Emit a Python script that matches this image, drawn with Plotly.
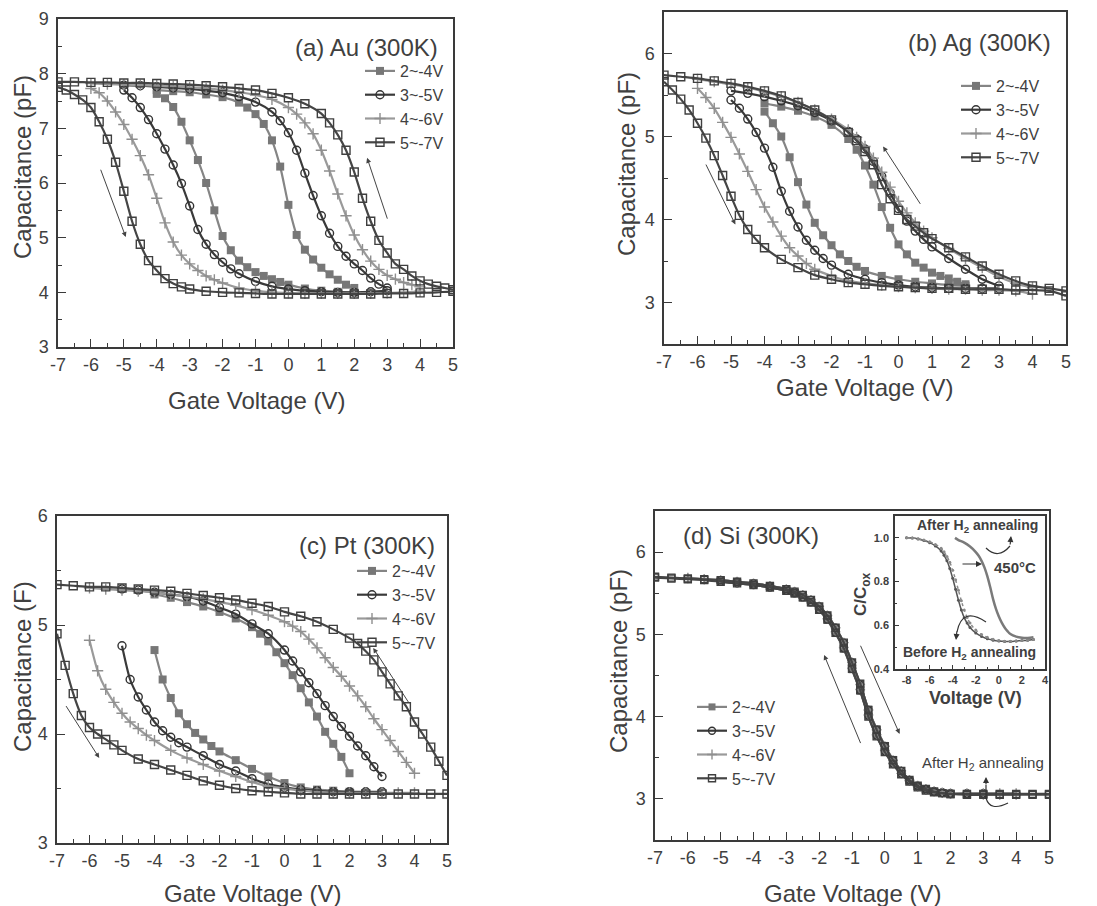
import plotly.graph_objects as go

FONT = "Liberation Sans, Arial, Helvetica, sans-serif"
W, H = 1097, 906
OFF = 8  # page body margin of the viewer; positions below are screen pixels
AX = "#3a3a3a"
TXT = "#404040"

SERIES = ["2~-4V", "3~-5V", "4~-6V", "5~-7V"]
GATE_TICKS = [-7, -6, -5, -4, -3, -2, -1, 0, 1, 2, 3, 4, 5]
INSET_X_TICKS = [-8, -6, -4, -2, 0, 2, 4]

# ---------------- (a) Au ----------------
A_24_DOWN_V = [-4, -3.75, -3.5, -3.25, -3, -2.75, -2.5, -2.25, -2, -1.75, -1.5, -1.25, -1, -0.75, -0.5, -0.25, 0, 0.5, 1, 1.5, 2]
A_24_DOWN_C = [7.63, 7.55, 7.39, 7.12, 6.78, 6.42, 6.00, 5.50, 5.03, 4.77, 4.58, 4.46, 4.37, 4.30, 4.24, 4.19, 4.14, 4.07, 4.03, 4.01, 4.00]
A_24_UP_V = [2, 1.75, 1.5, 1.25, 1, 0.75, 0.5, 0.25, 0, -0.25, -0.5, -0.75, -1, -1.25, -1.5, -2, -2.5, -3, -3.5, -4]
A_24_UP_C = [4.08, 4.14, 4.23, 4.33, 4.45, 4.60, 4.78, 5.05, 5.60, 6.30, 6.78, 7.08, 7.26, 7.38, 7.47, 7.57, 7.62, 7.66, 7.68, 7.70]

A_35_DOWN_V = [-5, -4.75, -4.5, -4.25, -4, -3.75, -3.5, -3.25, -3, -2.75, -2.5, -2.25, -2, -1.75, -1.5, -1, -0.5, 0, 0.5, 1, 1.5, 2, 2.5, 3]
A_35_DOWN_C = [7.70, 7.56, 7.38, 7.16, 6.90, 6.62, 6.33, 5.99, 5.58, 5.15, 4.88, 4.69, 4.55, 4.43, 4.34, 4.20, 4.11, 4.06, 4.03, 4.01, 4.00, 4.00, 4.01, 4.03]
A_35_UP_V = [3, 2.75, 2.5, 2.25, 2, 1.75, 1.5, 1.25, 1, 0.75, 0.5, 0.25, 0, -0.25, -0.5, -1, -1.5, -2, -2.5, -3, -3.5, -4, -4.5, -5]
A_35_UP_C = [4.08, 4.15, 4.26, 4.40, 4.52, 4.66, 4.84, 5.08, 5.40, 5.77, 6.18, 6.60, 6.92, 7.14, 7.30, 7.48, 7.58, 7.65, 7.69, 7.72, 7.74, 7.76, 7.78, 7.79]

A_46_DOWN_V = [-6, -5.75, -5.5, -5.25, -5, -4.75, -4.5, -4.25, -4, -3.75, -3.5, -3.25, -3, -2.75, -2.5, -2.25, -2, -1.5, -1, -0.5, 0, 0.5, 1, 1.5, 2, 2.5, 3, 3.5, 4]
A_46_DOWN_C = [7.73, 7.65, 7.50, 7.30, 7.07, 6.80, 6.50, 6.15, 5.72, 5.27, 4.92, 4.68, 4.52, 4.40, 4.30, 4.23, 4.17, 4.08, 4.03, 4.00, 3.99, 3.98, 3.98, 3.98, 3.98, 3.98, 3.99, 4.00, 4.02]
A_46_UP_V = [4, 3.75, 3.5, 3.25, 3, 2.75, 2.5, 2.25, 2, 1.75, 1.5, 1.25, 1, 0.75, 0.5, 0.25, 0, -0.5, -1, -1.5, -2, -2.5, -3, -3.5, -4, -4.5, -5, -5.5, -6]
A_46_UP_C = [4.10, 4.14, 4.18, 4.24, 4.31, 4.42, 4.57, 4.78, 5.05, 5.40, 5.80, 6.22, 6.60, 6.90, 7.10, 7.26, 7.38, 7.53, 7.61, 7.66, 7.70, 7.73, 7.75, 7.77, 7.78, 7.79, 7.80, 7.81, 7.82]

A_57_DOWN_V = [-7, -6.75, -6.5, -6.25, -6, -5.75, -5.5, -5.25, -5, -4.75, -4.5, -4.25, -4, -3.75, -3.5, -3.25, -3, -2.5, -2, -1.5, -1, -0.5, 0, 0.5, 1, 1.5, 2, 2.5, 3, 3.5, 4, 4.5, 5]
A_57_DOWN_C = [7.75, 7.70, 7.62, 7.52, 7.38, 7.12, 6.80, 6.38, 5.85, 5.30, 4.88, 4.58, 4.40, 4.25, 4.16, 4.10, 4.06, 4.02, 4.00, 3.99, 3.98, 3.97, 3.97, 3.97, 3.97, 3.97, 3.97, 3.97, 3.98, 3.98, 3.99, 4.00, 4.02]
A_57_UP_V = [5, 4.75, 4.5, 4.25, 4, 3.75, 3.5, 3.25, 3, 2.75, 2.5, 2.25, 2, 1.75, 1.5, 1.25, 1, 0.5, 0, -0.5, -1, -1.5, -2, -2.5, -3, -3.5, -4, -4.5, -5, -5.5, -6, -6.5, -7]
A_57_UP_C = [4.05, 4.08, 4.11, 4.15, 4.21, 4.30, 4.42, 4.52, 4.72, 4.95, 5.30, 5.72, 6.20, 6.60, 6.88, 7.10, 7.27, 7.45, 7.56, 7.64, 7.70, 7.73, 7.76, 7.78, 7.80, 7.81, 7.82, 7.83, 7.83, 7.84, 7.84, 7.85, 7.85]

# ---------------- (b) Ag ----------------
B_24_DOWN_V = [-4, -3.75, -3.5, -3.25, -3, -2.75, -2.5, -2.25, -2, -1.75, -1.5, -1.25, -1, -0.5, 0, 0.5, 1, 1.5, 2]
B_24_DOWN_C = [5.30, 5.16, 5.00, 4.75, 4.45, 4.18, 3.96, 3.81, 3.69, 3.58, 3.50, 3.43, 3.38, 3.32, 3.28, 3.25, 3.23, 3.21, 3.20]
B_24_UP_V = [2, 1.75, 1.5, 1.25, 1, 0.75, 0.5, 0.25, 0, -0.25, -0.5, -0.75, -1, -1.25, -1.5, -2, -2.5, -3, -3.5, -4]
B_24_UP_C = [3.22, 3.25, 3.29, 3.32, 3.36, 3.42, 3.48, 3.58, 3.70, 3.90, 4.15, 4.42, 4.65, 4.84, 4.97, 5.14, 5.24, 5.31, 5.36, 5.40]

B_35_DOWN_V = [-5, -4.75, -4.5, -4.25, -4, -3.75, -3.5, -3.25, -3, -2.75, -2.5, -2.25, -2, -1.5, -1, -0.5, 0, 0.5, 1, 1.5, 2, 2.5, 3]
B_35_DOWN_C = [5.44, 5.34, 5.21, 5.05, 4.86, 4.63, 4.34, 4.10, 3.91, 3.75, 3.63, 3.53, 3.45, 3.34, 3.28, 3.24, 3.21, 3.19, 3.18, 3.17, 3.17, 3.17, 3.17]
B_35_UP_V = [3, 2.5, 2, 1.5, 1, 0.75, 0.5, 0.25, 0, -0.25, -0.5, -0.75, -1, -1.25, -1.5, -2, -2.5, -3, -3.5, -4, -4.5, -5]
B_35_UP_C = [3.20, 3.28, 3.40, 3.53, 3.67, 3.76, 3.86, 3.98, 4.13, 4.32, 4.52, 4.70, 4.85, 4.97, 5.06, 5.19, 5.29, 5.37, 5.43, 5.48, 5.52, 5.55]

B_46_DOWN_V = [-6, -5.75, -5.5, -5.25, -5, -4.75, -4.5, -4.25, -4, -3.75, -3.5, -3.25, -3, -2.75, -2.5, -2, -1.5, -1, -0.5, 0, 0.5, 1, 1.5, 2, 2.5, 3, 3.5, 4]
B_46_DOWN_C = [5.58, 5.47, 5.34, 5.17, 4.99, 4.79, 4.58, 4.36, 4.15, 3.97, 3.80, 3.66, 3.56, 3.47, 3.40, 3.32, 3.26, 3.23, 3.21, 3.19, 3.18, 3.17, 3.16, 3.16, 3.15, 3.15, 3.14, 3.10]
B_46_UP_V = [4, 3.5, 3, 2.5, 2, 1.5, 1, 0.75, 0.5, 0.25, 0, -0.25, -0.5, -0.75, -1, -1.25, -1.5, -2, -2.5, -3, -3.5, -4, -4.5, -5, -5.5, -6]
B_46_UP_C = [3.18, 3.23, 3.31, 3.42, 3.53, 3.65, 3.78, 3.86, 3.96, 4.08, 4.22, 4.39, 4.57, 4.74, 4.88, 4.99, 5.08, 5.21, 5.32, 5.41, 5.48, 5.54, 5.59, 5.63, 5.66, 5.69]

B_57_DOWN_V = [-7, -6.75, -6.5, -6.25, -6, -5.75, -5.5, -5.25, -5, -4.75, -4.5, -4.25, -4, -3.5, -3, -2.5, -2, -1.5, -1, -0.5, 0, 0.5, 1, 1.5, 2, 2.5, 3, 3.5, 4, 4.5, 5]
B_57_DOWN_C = [5.66, 5.56, 5.45, 5.32, 5.16, 4.98, 4.77, 4.53, 4.28, 4.05, 3.88, 3.76, 3.66, 3.52, 3.42, 3.33, 3.28, 3.24, 3.22, 3.20, 3.19, 3.18, 3.17, 3.17, 3.16, 3.16, 3.16, 3.15, 3.15, 3.14, 3.08]
B_57_UP_V = [5, 4.5, 4, 3.5, 3, 2.5, 2, 1.5, 1, 0.75, 0.5, 0.25, 0, -0.25, -0.5, -0.75, -1, -1.25, -1.5, -2, -2.5, -3, -3.5, -4, -4.5, -5, -5.5, -6, -6.5, -7]
B_57_UP_C = [3.14, 3.17, 3.20, 3.26, 3.34, 3.44, 3.55, 3.66, 3.77, 3.84, 3.92, 4.00, 4.11, 4.25, 4.42, 4.66, 4.82, 4.95, 5.05, 5.20, 5.32, 5.41, 5.49, 5.55, 5.60, 5.64, 5.67, 5.70, 5.72, 5.74]

# ---------------- (c) Pt ----------------
C_24_DOWN_V = [-4, -3.75, -3.5, -3.25, -3, -2.75, -2.5, -2.25, -2, -1.5, -1, -0.5, 0, 0.5, 1, 1.5, 2]
C_24_DOWN_C = [4.77, 4.50, 4.33, 4.19, 4.09, 4.01, 3.95, 3.89, 3.84, 3.76, 3.68, 3.61, 3.55, 3.51, 3.49, 3.48, 3.47]
C_24_UP_V = [2, 1.75, 1.5, 1.25, 1, 0.75, 0.5, 0.25, 0, -0.25, -0.5, -0.75, -1, -1.5, -2, -2.5, -3, -3.5, -4]
C_24_UP_C = [3.64, 3.79, 3.91, 4.02, 4.16, 4.29, 4.42, 4.54, 4.65, 4.75, 4.85, 4.92, 4.98, 5.06, 5.12, 5.17, 5.21, 5.25, 5.28]

C_35_DOWN_V = [-5, -4.75, -4.5, -4.25, -4, -3.75, -3.5, -3.25, -3, -2.5, -2, -1.5, -1, -0.5, 0, 0.5, 1, 1.5, 2, 2.5, 3]
C_35_DOWN_C = [4.81, 4.50, 4.34, 4.22, 4.11, 4.03, 3.97, 3.92, 3.88, 3.80, 3.72, 3.66, 3.59, 3.54, 3.51, 3.49, 3.48, 3.47, 3.47, 3.47, 3.47]
C_35_UP_V = [3, 2.75, 2.5, 2.25, 2, 1.75, 1.5, 1.25, 1, 0.75, 0.5, 0.25, 0, -0.5, -1, -1.5, -2, -2.5, -3, -3.5, -4, -4.5, -5]
C_35_UP_C = [3.61, 3.70, 3.80, 3.89, 3.98, 4.07, 4.16, 4.26, 4.37, 4.47, 4.57, 4.67, 4.77, 4.92, 5.01, 5.10, 5.16, 5.22, 5.26, 5.28, 5.30, 5.32, 5.33]

C_46_DOWN_V = [-6, -5.75, -5.5, -5.25, -5, -4.75, -4.5, -4.25, -4, -3.5, -3, -2.5, -2, -1.5, -1, -0.5, 0, 0.5, 1, 1.5, 2, 2.5, 3, 3.5, 4]
C_46_DOWN_C = [4.86, 4.58, 4.41, 4.29, 4.19, 4.11, 4.05, 3.99, 3.94, 3.85, 3.78, 3.72, 3.66, 3.61, 3.56, 3.52, 3.50, 3.48, 3.47, 3.46, 3.46, 3.46, 3.46, 3.46, 3.46]
C_46_UP_V = [4, 3.75, 3.5, 3.25, 3, 2.75, 2.5, 2.25, 2, 1.75, 1.5, 1.25, 1, 0.75, 0.5, 0.25, 0, -0.5, -1, -1.5, -2, -2.5, -3, -3.5, -4, -4.5, -5, -5.5, -6]
C_46_UP_C = [3.64, 3.74, 3.84, 3.94, 4.04, 4.14, 4.25, 4.35, 4.44, 4.53, 4.61, 4.70, 4.79, 4.87, 4.94, 4.99, 5.03, 5.09, 5.14, 5.18, 5.21, 5.24, 5.26, 5.28, 5.30, 5.31, 5.32, 5.33, 5.34]

C_57_DOWN_V = [-7, -6.75, -6.5, -6.25, -6, -5.75, -5.5, -5.25, -5, -4.5, -4, -3.5, -3, -2.5, -2, -1.5, -1, -0.5, 0, 0.5, 1, 1.5, 2, 2.5, 3, 3.5, 4, 4.5, 5]
C_57_DOWN_C = [4.92, 4.63, 4.37, 4.17, 4.06, 4.00, 3.95, 3.90, 3.85, 3.77, 3.72, 3.67, 3.62, 3.57, 3.53, 3.50, 3.48, 3.47, 3.46, 3.45, 3.45, 3.45, 3.45, 3.45, 3.45, 3.45, 3.45, 3.45, 3.45]
C_57_UP_V = [5, 4.75, 4.5, 4.25, 4, 3.75, 3.5, 3.25, 3, 2.75, 2.5, 2.25, 2, 1.5, 1, 0.5, 0, -0.5, -1, -1.5, -2, -2.5, -3, -3.5, -4, -4.5, -5, -5.5, -6, -6.5, -7]
C_57_UP_C = [3.62, 3.75, 3.88, 4.00, 4.11, 4.25, 4.35, 4.46, 4.57, 4.68, 4.76, 4.83, 4.88, 4.96, 5.03, 5.08, 5.12, 5.17, 5.20, 5.23, 5.25, 5.27, 5.29, 5.31, 5.32, 5.33, 5.34, 5.35, 5.35, 5.36, 5.37]

# ---------------- (d) Si ----------------
D_24_DOWN_V = [-4, -3.5, -3, -2.75, -2.5, -2.25, -2, -1.75, -1.5, -1.25, -1, -0.75, -0.5, -0.25, 0, 0.25, 0.5, 0.75, 1, 1.25, 1.5, 1.75, 2]
D_24_DOWN_C = [5.60, 5.57, 5.53, 5.49, 5.44, 5.38, 5.29, 5.17, 5.01, 4.82, 4.57, 4.31, 4.00, 3.76, 3.57, 3.42, 3.30, 3.21, 3.14, 3.10, 3.08, 3.07, 3.06]
D_24_UP_V = [2, 1.75, 1.5, 1.25, 1, 0.75, 0.5, 0.25, 0, -0.25, -0.5, -0.75, -1, -1.25, -1.5, -1.75, -2, -2.25, -2.5, -2.75, -3, -3.5, -4]
D_24_UP_C = [3.06, 3.07, 3.09, 3.12, 3.16, 3.23, 3.34, 3.48, 3.65, 3.85, 4.09, 4.38, 4.65, 4.89, 5.07, 5.22, 5.33, 5.41, 5.47, 5.51, 5.54, 5.58, 5.61]

D_35_DOWN_V = [-5, -4.5, -4, -3.5, -3, -2.75, -2.5, -2.25, -2, -1.75, -1.5, -1.25, -1, -0.75, -0.5, -0.25, 0, 0.25, 0.5, 0.75, 1, 1.25, 1.5, 1.75, 2, 2.5, 3]
D_35_DOWN_C = [5.64, 5.62, 5.60, 5.57, 5.53, 5.50, 5.45, 5.39, 5.30, 5.18, 5.02, 4.83, 4.58, 4.32, 4.01, 3.77, 3.58, 3.43, 3.31, 3.22, 3.15, 3.11, 3.09, 3.08, 3.07, 3.07, 3.07]
D_35_UP_V = [3, 2.5, 2, 1.75, 1.5, 1.25, 1, 0.75, 0.5, 0.25, 0, -0.25, -0.5, -0.75, -1, -1.25, -1.5, -1.75, -2, -2.25, -2.5, -2.75, -3, -3.5, -4, -4.5, -5]
D_35_UP_C = [3.06, 3.06, 3.06, 3.07, 3.09, 3.12, 3.16, 3.23, 3.34, 3.47, 3.64, 3.84, 4.08, 4.39, 4.66, 4.90, 5.08, 5.23, 5.34, 5.42, 5.48, 5.52, 5.55, 5.59, 5.62, 5.64, 5.66]

D_46_DOWN_V = [-6, -5.5, -5, -4.5, -4, -3.5, -3, -2.75, -2.5, -2.25, -2, -1.75, -1.5, -1.25, -1, -0.75, -0.5, -0.25, 0, 0.25, 0.5, 0.75, 1, 1.25, 1.5, 1.75, 2, 2.5, 3, 3.5, 4]
D_46_DOWN_C = [5.68, 5.67, 5.65, 5.63, 5.61, 5.58, 5.54, 5.51, 5.46, 5.40, 5.31, 5.19, 5.03, 4.84, 4.59, 4.33, 4.02, 3.78, 3.59, 3.43, 3.31, 3.22, 3.15, 3.11, 3.09, 3.08, 3.07, 3.07, 3.07, 3.07, 3.07]
D_46_UP_V = [4, 3.5, 3, 2.5, 2, 1.75, 1.5, 1.25, 1, 0.75, 0.5, 0.25, 0, -0.25, -0.5, -0.75, -1, -1.25, -1.5, -1.75, -2, -2.25, -2.5, -2.75, -3, -3.5, -4, -4.5, -5, -5.5, -6]
D_46_UP_C = [3.05, 3.05, 3.05, 3.06, 3.06, 3.07, 3.09, 3.12, 3.16, 3.23, 3.34, 3.47, 3.64, 3.84, 4.08, 4.39, 4.66, 4.90, 5.08, 5.23, 5.34, 5.42, 5.48, 5.52, 5.55, 5.59, 5.62, 5.64, 5.66, 5.67, 5.69]

D_57_DOWN_V = [-7, -6.5, -6, -5.5, -5, -4.5, -4, -3.5, -3, -2.75, -2.5, -2.25, -2, -1.75, -1.5, -1.25, -1, -0.75, -0.5, -0.25, 0, 0.25, 0.5, 0.75, 1, 1.25, 1.5, 1.75, 2, 2.5, 3, 3.5, 4, 4.5, 5]
D_57_DOWN_C = [5.69, 5.68, 5.67, 5.66, 5.64, 5.62, 5.60, 5.57, 5.53, 5.50, 5.45, 5.39, 5.30, 5.18, 5.02, 4.83, 4.58, 4.32, 4.00, 3.76, 3.57, 3.42, 3.30, 3.21, 3.14, 3.10, 3.08, 3.07, 3.06, 3.06, 3.06, 3.06, 3.06, 3.06, 3.06]
D_57_UP_V = [5, 4.5, 4, 3.5, 3, 2.5, 2, 1.75, 1.5, 1.25, 1, 0.75, 0.5, 0.25, 0, -0.25, -0.5, -0.75, -1, -1.25, -1.5, -1.75, -2, -2.25, -2.5, -2.75, -3, -3.5, -4, -4.5, -5, -5.5, -6, -6.5, -7]
D_57_UP_C = [3.05, 3.05, 3.05, 3.05, 3.05, 3.05, 3.06, 3.07, 3.09, 3.12, 3.16, 3.23, 3.34, 3.47, 3.64, 3.84, 4.08, 4.40, 4.66, 4.90, 5.08, 5.23, 5.34, 5.42, 5.48, 5.52, 5.55, 5.59, 5.62, 5.64, 5.66, 5.67, 5.68, 5.69, 5.70]

# ---------------- inset of (d): C/Cox vs V ----------------
INSET_BEFORE_V = [-8, -7.5, -7, -6.5, -6, -5.5, -5, -4.75, -4.5, -4.25, -4, -3.75, -3.5, -3.25, -3, -2.75, -2.5, -2, -1.5, -1, -0.5, 0, 0.5, 1, 1.5, 2, 2.5, 3]
INSET_BEFORE1_C = [1.00, 0.999, 0.995, 0.988, 0.978, 0.963, 0.94, 0.92, 0.895, 0.86, 0.815, 0.765, 0.715, 0.67, 0.635, 0.61, 0.59, 0.565, 0.549, 0.538, 0.532, 0.528, 0.526, 0.526, 0.528, 0.530, 0.532, 0.535]
INSET_BEFORE2_C = [1.00, 0.999, 0.996, 0.990, 0.982, 0.970, 0.952, 0.936, 0.915, 0.888, 0.852, 0.808, 0.760, 0.712, 0.670, 0.636, 0.610, 0.578, 0.558, 0.545, 0.536, 0.530, 0.527, 0.527, 0.528, 0.530, 0.532, 0.535]
INSET_AFTER_V = [-3.8, -3.5, -3, -2.5, -2, -1.75, -1.5, -1.25, -1, -0.75, -0.5, -0.25, 0, 0.25, 0.5, 0.75, 1, 1.5, 2, 2.5, 3]
INSET_AFTER_C = [1.00, 0.99, 0.978, 0.96, 0.935, 0.918, 0.895, 0.865, 0.825, 0.775, 0.72, 0.675, 0.64, 0.612, 0.59, 0.573, 0.56, 0.548, 0.543, 0.542, 0.545]

PANEL_DATA = {
    "": {"2~-4V": (A_24_DOWN_V, A_24_DOWN_C, A_24_UP_V, A_24_UP_C),
         "3~-5V": (A_35_DOWN_V, A_35_DOWN_C, A_35_UP_V, A_35_UP_C),
         "4~-6V": (A_46_DOWN_V, A_46_DOWN_C, A_46_UP_V, A_46_UP_C),
         "5~-7V": (A_57_DOWN_V, A_57_DOWN_C, A_57_UP_V, A_57_UP_C)},
    "2": {"2~-4V": (B_24_DOWN_V, B_24_DOWN_C, B_24_UP_V, B_24_UP_C),
          "3~-5V": (B_35_DOWN_V, B_35_DOWN_C, B_35_UP_V, B_35_UP_C),
          "4~-6V": (B_46_DOWN_V, B_46_DOWN_C, B_46_UP_V, B_46_UP_C),
          "5~-7V": (B_57_DOWN_V, B_57_DOWN_C, B_57_UP_V, B_57_UP_C)},
    "3": {"2~-4V": (C_24_DOWN_V, C_24_DOWN_C, C_24_UP_V, C_24_UP_C),
          "3~-5V": (C_35_DOWN_V, C_35_DOWN_C, C_35_UP_V, C_35_UP_C),
          "4~-6V": (C_46_DOWN_V, C_46_DOWN_C, C_46_UP_V, C_46_UP_C),
          "5~-7V": (C_57_DOWN_V, C_57_DOWN_C, C_57_UP_V, C_57_UP_C)},
    "4": {"2~-4V": (D_24_DOWN_V, D_24_DOWN_C, D_24_UP_V, D_24_UP_C),
          "3~-5V": (D_35_DOWN_V, D_35_DOWN_C, D_35_UP_V, D_35_UP_C),
          "4~-6V": (D_46_DOWN_V, D_46_DOWN_C, D_46_UP_V, D_46_UP_C),
          "5~-7V": (D_57_DOWN_V, D_57_DOWN_C, D_57_UP_V, D_57_UP_C)},
}


def X(p):
    return (p - OFF) / W


def Y(p):
    return 1 - (p - OFF) / H


STYLE = {
    "2~-4V": dict(symbol="square", color="#777777", lc="#858585", lw=0),
    "3~-5V": dict(symbol="circle-open", color="#333333", lc="#3a3a3a", lw=1.4),
    "4~-6V": dict(symbol="cross-thin-open", color="#8f8f8f", lc="#9a9a9a", lw=1.4),
    "5~-7V": dict(symbol="square-open", color="#3f3f3f", lc="#454545", lw=1.4),
}

fig = go.Figure()

for key, series in PANEL_DATA.items():
    msize = 7 if key == "4" else 8
    for name in SERIES:
        dv, dc, uv, uc = series[name]
        st = STYLE[name]
        fig.add_trace(go.Scatter(
            x=list(dv) + [None] + list(uv),
            y=list(dc) + [None] + list(uc),
            mode="lines+markers", name=name,
            xaxis="x" + key, yaxis="y" + key,
            legend="legend" + key,
            line=dict(color=st["lc"], width=2.2, shape="spline", smoothing=0.7),
            marker=dict(symbol=st["symbol"], size=msize, color=st["color"],
                        line=dict(width=st["lw"], color=st["color"])),
            connectgaps=False,
        ))

# inset traces
fig.add_trace(go.Scatter(x=INSET_BEFORE_V, y=INSET_BEFORE1_C, mode="lines+markers",
                         xaxis="x5", yaxis="y5", showlegend=False,
                         line=dict(color="#555555", width=1.5, shape="spline"),
                         marker=dict(symbol="circle", size=3, color="#555555")))
fig.add_trace(go.Scatter(x=INSET_BEFORE_V, y=INSET_BEFORE2_C, mode="lines+markers",
                         xaxis="x5", yaxis="y5", showlegend=False,
                         line=dict(color="#8a8a8a", width=1.5, shape="spline", dash="dot"),
                         marker=dict(symbol="circle", size=3, color="#8a8a8a")))
fig.add_trace(go.Scatter(x=INSET_AFTER_V, y=INSET_AFTER_C, mode="lines",
                         xaxis="x5", yaxis="y5", showlegend=False,
                         line=dict(color="#7a7a7a", width=2.5, shape="spline")))


def axis(domain, rng, dtick, mdtick, anchor, size=18, bold=False, fmt=None,
         ticks=None, standoff=4):
    d = dict(domain=domain, range=rng, anchor=anchor, automargin=False,
             showline=True, linecolor=AX, linewidth=1.5, mirror=True,
             ticks="inside", ticklen=8, tickwidth=1.2, tickcolor=AX,
             showgrid=False, zeroline=False, ticklabelstandoff=standoff,
             tickfont=dict(family=FONT, size=size, color=TXT,
                           weight="bold" if bold else "normal"),
             minor=dict(ticks="inside", ticklen=4, tickwidth=1, tickcolor=AX,
                        dtick=mdtick, tick0=0, showgrid=False))
    if ticks is not None:
        d["tickmode"] = "array"
        d["tickvals"] = ticks
        d["ticktext"] = [str(t) for t in ticks]
    else:
        d["dtick"] = dtick
        d["tick0"] = 0
    if fmt:
        d["tickformat"] = fmt
    return d


layout = dict(
    width=W, height=H, margin=dict(l=0, r=0, t=0, b=0, autoexpand=False),
    template="none",
    paper_bgcolor="white", plot_bgcolor="white",
    font=dict(family=FONT, color=TXT),
    xaxis=axis([X(58), X(453)], [-7, 5], 1, 0.5, "y", ticks=GATE_TICKS, standoff=1),
    yaxis=axis([Y(347), Y(19)], [3, 9], 1, 0.5, "x"),
    xaxis2=axis([X(664), X(1066)], [-7, 5], 1, 0.5, "y2", ticks=GATE_TICKS, standoff=1),
    yaxis2=axis([Y(344), Y(12)], [2.5, 6.5], 1, 0.5, "x2"),
    xaxis3=axis([X(57), X(447)], [-7, 5], 1, 0.5, "y3", ticks=GATE_TICKS, standoff=1),
    yaxis3=axis([Y(843), Y(516)], [3, 6], 1, 0.5, "x3"),
    xaxis4=axis([X(655), X(1049)], [-7, 5], 1, 0.5, "y4", ticks=GATE_TICKS, standoff=1),
    yaxis4=axis([Y(840), Y(511)], [2.5, 6.5], 1, 0.5, "x4"),
    xaxis5=axis([X(895), X(1045)], [-9, 4], 2, 1, "y5", size=11, bold=True,
                ticks=INSET_X_TICKS, standoff=0),
    yaxis5=axis([Y(669), Y(516)], [0.4, 1.1], 0.2, 0.1, "x5", size=11, bold=True,
                fmt=".1f", standoff=2),
)
layout["xaxis5"]["ticklen"] = 4
layout["yaxis5"]["ticklen"] = 4
layout["xaxis5"]["minor"]["ticklen"] = 2
layout["yaxis5"]["minor"]["ticklen"] = 2


def legend(x, y):
    return dict(x=X(x), y=Y(y), xanchor="left", yanchor="top",
                bgcolor="rgba(0,0,0,0)", borderwidth=0,
                font=dict(family=FONT, size=16, color=TXT),
                traceorder="normal", itemwidth=30, tracegroupgap=0)


layout["legend"] = legend(360, 54)
layout["legend2"] = legend(956, 69)
layout["legend3"] = legend(352, 554)
layout["legend4"] = legend(692, 690)

fig.update_layout(**layout)

ann = []


def text(t, x, y, size, anchor="center", angle=0, bold=False, color=TXT):
    ann.append(dict(text=t, x=X(x), y=Y(y), xref="paper", yref="paper",
                    xanchor=anchor, yanchor="middle", showarrow=False,
                    textangle=angle,
                    font=dict(family=FONT, size=size, color=color,
                              weight="bold" if bold else "normal")))


# axis titles
text("Capacitance (pF)", 22, 167, 24, angle=-90)
text("Gate Voltage (V)", 256, 400, 24)
text("Capacitance (pF)", 626, 164, 24, angle=-90)
text("Gate Voltage (V)", 864, 388, 24)
text("Capacitance (F)", 22, 667, 24, angle=-90)
text("Gate Voltage (V)", 252, 893, 24)
text("Capacitance (pF)", 618, 661, 24, angle=-90)
text("Gate Voltage (V)", 852, 893, 24)

# panel labels
text("(a) Au (300K)", 440, 47, 24, anchor="right")
text("(b) Ag (300K)", 1053, 43, 24, anchor="right")
text("(c) Pt (300K)", 437, 545, 24, anchor="right")
text("(d) Si (300K)", 681, 535, 24, anchor="left")

# inset texts
text("After H<sub>2</sub> annealing", 977, 526, 14, bold=True)
text("Before H<sub>2</sub> annealing", 970, 653, 14, bold=True)
text("450°C", 1015, 567, 15, bold=True)
text("Voltage (V)", 975, 698, 18, bold=True)
text("C/C<sub>ox</sub>", 862, 594, 17, angle=-90, bold=True)
text("After H<sub>2</sub> annealing", 983, 763, 15)

# sweep-direction arrows (data coordinates: head x/y, tail ax/ay)
ARROWS = [
    ("", -4.94, 5.01, -5.72, 6.27),
    ("", 2.39, 6.46, 3.02, 5.32),
    ("2", -4.87, 3.94, -5.77, 4.68),
    ("2", -0.46, 4.88, 0.68, 4.17),
    ("3", -5.70, 3.78, -6.75, 4.27),
    ("3", 2.73, 4.79, 3.84, 4.28),
    ("4", -1.85, 4.75, -0.72, 3.66),
    ("4", 0.45, 3.79, -0.76, 4.88),
]
for key, hx, hy, tx, ty in ARROWS:
    ann.append(dict(x=hx, y=hy, ax=tx, ay=ty, xref="x" + key, yref="y" + key,
                    axref="x" + key, ayref="y" + key, showarrow=True, text="",
                    arrowhead=2, arrowsize=1, arrowwidth=1, arrowcolor="#444"))


def parrow(hx, hy, tx, ty):
    ann.append(dict(x=X(hx), y=Y(hy), ax=tx - hx, ay=ty - hy, xref="paper", yref="paper",
                    axref="pixel", ayref="pixel", showarrow=True, text="",
                    arrowhead=2, arrowsize=1, arrowwidth=1.2, arrowcolor="#333"))


parrow(982, 564, 961, 564)
parrow(1011, 536, 1010, 546)
parrow(956, 640, 957, 630)
parrow(986, 777, 986, 786)

fig.update_layout(annotations=ann)


def ppath(pts):
    s = ""
    for cmd, coords in pts:
        s += cmd + " " + " ".join(f"{X(x):.5f},{Y(y):.5f}" for x, y in coords) + " "
    return s.strip()


shapes = [
    dict(type="path", xref="paper", yref="paper", line=dict(color="#333", width=1.2),
         path=ppath([("M", [(986, 548)]), ("Q", [(998, 560), (1010, 546)])])),
    dict(type="path", xref="paper", yref="paper", line=dict(color="#333", width=1.2),
         path=ppath([("M", [(986, 622)]), ("Q", [(962, 606), (957, 632)])])),
    dict(type="path", xref="paper", yref="paper", line=dict(color="#333", width=1.2),
         path=ppath([("M", [(986, 785)]), ("L", [(986, 798)]), ("Q", [(990, 812), (1008, 803)])])),
]
fig.update_layout(shapes=shapes)

fig.write_html("out.html")
